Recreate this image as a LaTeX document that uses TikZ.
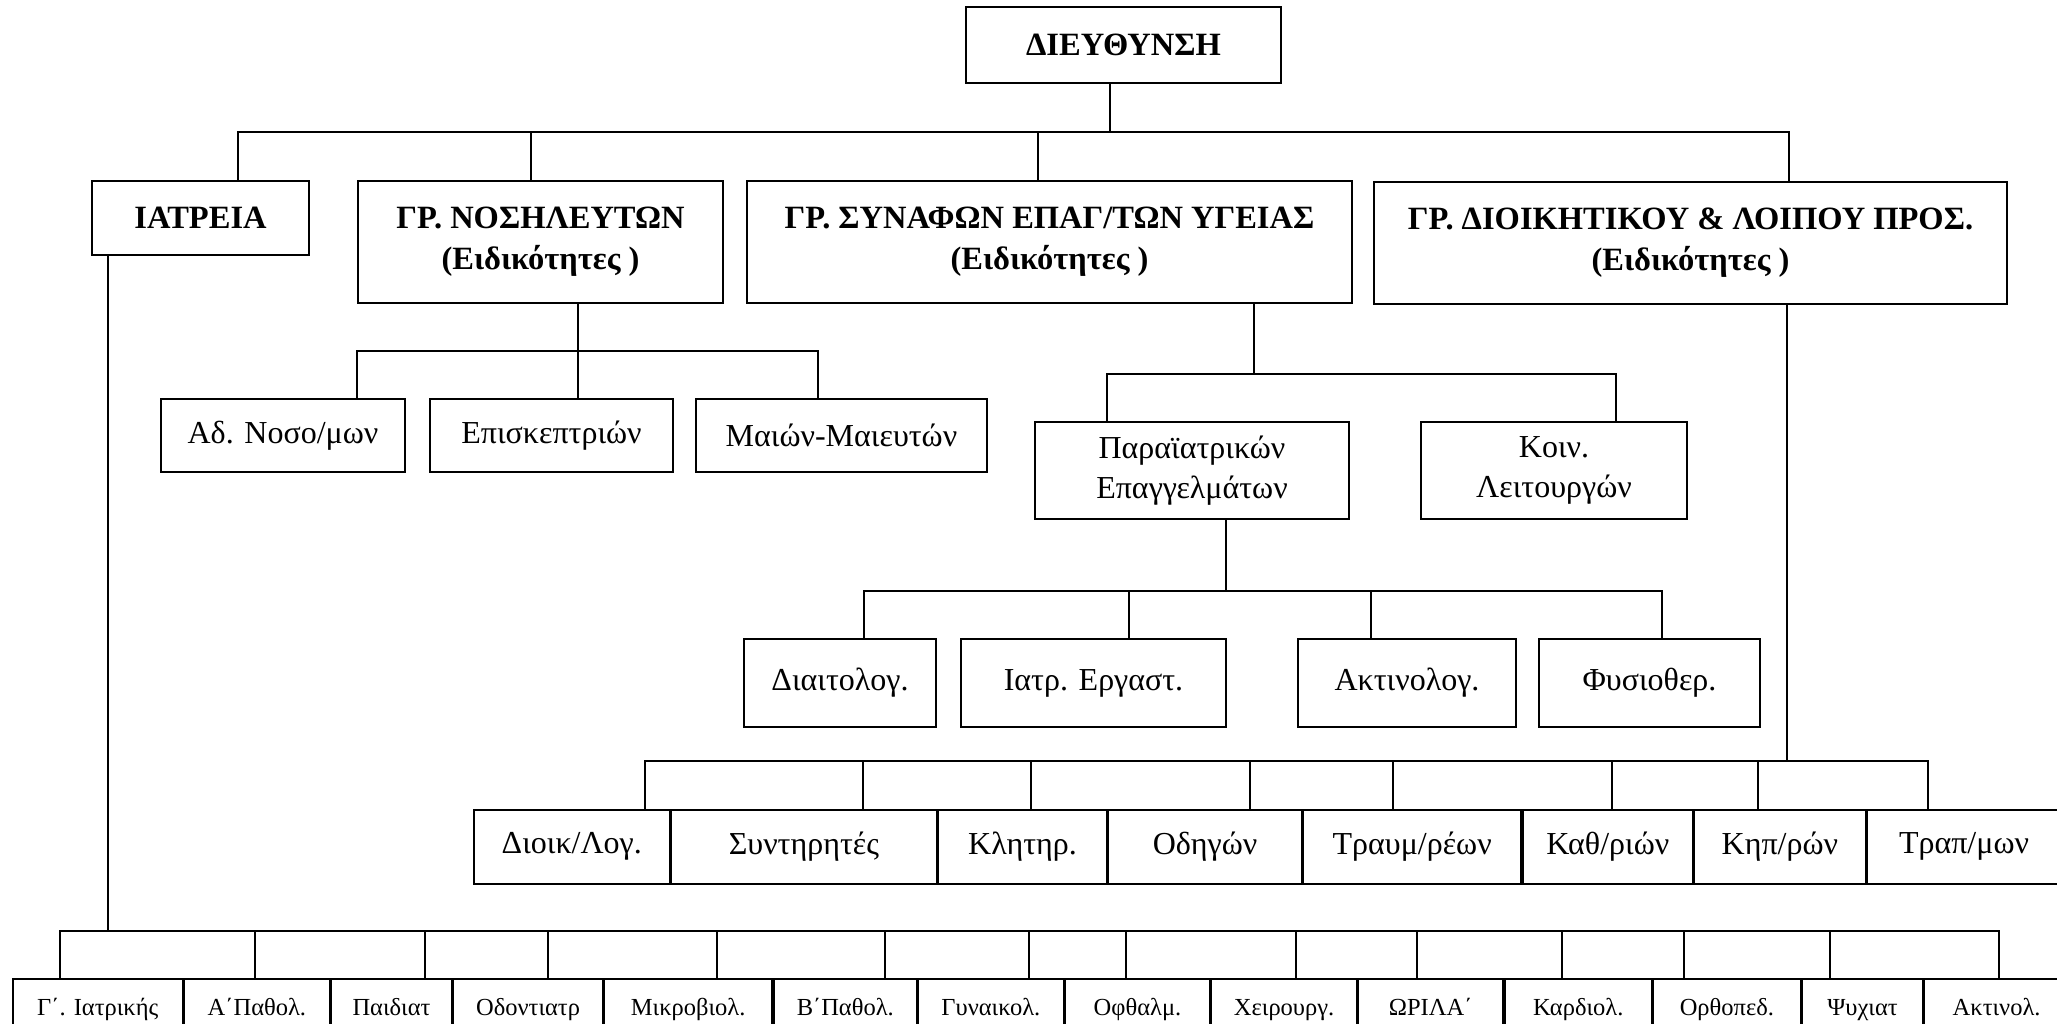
\documentclass[tikz,border=0pt]{standalone}
\usepackage{fontspec}
\setmainfont{Liberation Serif}
\usepackage{tikz}
\usetikzlibrary{positioning}

\begin{document}
\begin{tikzpicture}[x=1pt,y=-1pt]
        \tikzstyle{box}=[draw,rectangle,line width=1.6pt,inner sep=0pt,align=center,font=\fontsize{32}{40}\selectfont]
        \tikzstyle{head}=[box,font=\fontsize{32.5}{41}\selectfont\bfseries]
        \tikzstyle{cell}=[box,minimum height=62pt,text height=17pt,text depth=6pt,font=\fontsize{24.5}{28}\selectfont]
        \tikzstyle{link}=[line width=1.6pt,line cap=rect]
        \useasboundingbox (0,0) rectangle (2057,1024);
        \clip (0,0) rectangle (2057,1024);

        % management and the four groups
        \node[head,minimum width=315pt,minimum height=76pt] (dir) at (1123.5,45) {ΔΙΕΥΘΥΝΣΗ};
        \node[head,minimum width=217pt,minimum height=74pt] (iatreia) at (200.5,218) {ΙΑΤΡΕΙΑ};
        \node[head,minimum width=365pt,minimum height=122pt] (nosil) at (540.5,242) {ΓΡ. ΝΟΣΗΛΕΥΤΩΝ\\(Ειδικότητες )};
        \node[head,minimum width=605pt,minimum height=122pt] (synaf) at (1049.5,242) {ΓΡ. ΣΥΝΑΦΩΝ ΕΠΑΓ/ΤΩΝ ΥΓΕΙΑΣ\\(Ειδικότητες )};
        \node[head,minimum width=633pt,minimum height=122pt] (dioik) at (1690.5,243) {ΓΡ. ΔΙΟΙΚΗΤΙΚΟΥ \& ΛΟΙΠΟΥ ΠΡΟΣ.\\(Ειδικότητες )};

        \draw[link] (1110,0 |- dir.south) -- (1110,132);
        \draw[link] (238,132) -- (1789,132);
        \foreach \x/\n in {238/iatreia,531/nosil,1038/synaf,1789/dioik}
            \draw[link] (\x,132) -- (\x,0 |- \n.north);

        % nurses
        \node[box,minimum width=244pt,minimum height=73pt] (adnos) at (283,435.5) {Αδ. Νοσο/μων};
        \node[box,minimum width=243pt,minimum height=73pt] (episk) at (551.5,435.5) {Επισκεπτριών};
        \node[box,minimum width=291pt,minimum height=73pt] (maion) at (841.5,435.5) {Μαιών-Μαιευτών};

        \draw[link] (578,0 |- nosil.south) -- (578,351);
        \draw[link] (357,351) -- (818,351);
        \foreach \x/\n in {357/adnos,578/episk,818/maion}
            \draw[link] (\x,351) -- (\x,0 |- \n.north);

        % health professions
        \node[box,minimum width=314pt,minimum height=97pt] (parai) at (1192,470.5) {Παραϊατρικών\\Επαγγελμάτων};
        \node[box,minimum width=266pt,minimum height=97pt] (koin) at (1554,470.5) {Κοιν.\\Λειτουργών};

        \draw[link] (1254,0 |- synaf.south) -- (1254,374);
        \draw[link] (1107,374) -- (1616,374);
        \foreach \x/\n in {1107/parai,1616/koin}
            \draw[link] (\x,374) -- (\x,0 |- \n.north);

        \node[box,minimum width=192pt,minimum height=88pt] (diait) at (840,683) {Διαιτολογ.};
        \node[box,minimum width=265pt,minimum height=88pt] (iatrerg) at (1093.5,683) {Ιατρ. Εργαστ.};
        \node[box,minimum width=218pt,minimum height=88pt] (aktin) at (1407,683) {Ακτινολογ.};
        \node[box,minimum width=221pt,minimum height=88pt] (fysio) at (1649.5,683) {Φυσιοθερ.};

        \draw[link] (1226,0 |- parai.south) -- (1226,591);
        \draw[link] (864,591) -- (1662,591);
        \foreach \x/\n in {864/diait,1129/iatrerg,1371/aktin,1662/fysio}
            \draw[link] (\x,591) -- (\x,0 |- \n.north);

        % administrative staff
        \node[box,minimum width=196pt,minimum height=74pt,anchor=north west] (dlog) at (473,809) {Διοικ/Λογ.};
        \node[box,minimum width=265pt,minimum height=74pt] (synt) [right=0pt of dlog] {Συντηρητές};
        \node[box,minimum width=169pt,minimum height=74pt] (klit) [right=0pt of synt] {Κλητηρ.};
        \node[box,minimum width=193pt,minimum height=74pt] (odig) [right=0pt of klit] {Οδηγών};
        \node[box,minimum width=218pt,minimum height=74pt] (trav) [right=0pt of odig] {Τραυμ/ρέων};
        \node[box,minimum width=170pt,minimum height=74pt] (kath) [right=0pt of trav] {Καθ/ριών};
        \node[box,minimum width=171pt,minimum height=74pt] (kip) [right=0pt of kath] {Κηπ/ρών};
        \node[box,minimum width=194pt,minimum height=74pt] (trap) [right=0pt of kip] {Τραπ/μων};

        \draw[link] (1787,0 |- dioik.south) -- (1787,761);
        \draw[link] (645,761) -- (1928,761);
        \foreach \x/\n in {645/dlog,863/synt,1031/klit,1250/odig,1393/trav,1612/kath,1758/kip,1928/trap}
            \draw[link] (\x,761) -- (\x,0 |- \n.north);

        % clinics
        \node[cell,minimum width=170pt,anchor=north west] (giat) at (12,978) {Γ΄. Ιατρικής};
        \node[cell,minimum width=145pt] (apath) [right=0pt of giat] {Α΄Παθολ.};
        \node[cell,minimum width=121pt] (paid) [right=0pt of apath] {Παιδιατ};
        \node[cell,minimum width=149pt] (odon) [right=0pt of paid] {Οδοντιατρ};
        \node[cell,minimum width=168pt] (mikr) [right=0pt of odon] {Μικροβιολ.};
        \node[cell,minimum width=143pt] (bpath) [right=0pt of mikr] {Β΄Παθολ.};
        \node[cell,minimum width=145pt] (gyn) [right=0pt of bpath] {Γυναικολ.};
        \node[cell,minimum width=145pt] (ofth) [right=0pt of gyn] {Οφθαλμ.};
        \node[cell,minimum width=145pt] (xeir) [right=0pt of ofth] {Χειρουργ.};
        \node[cell,minimum width=145pt] (oril) [right=0pt of xeir] {ΩΡΙΛΑ΄};
        \node[cell,minimum width=147pt] (kard) [right=0pt of oril] {Καρδιολ.};
        \node[cell,minimum width=147pt] (orth) [right=0pt of kard] {Ορθοπεδ.};
        \node[cell,minimum width=121pt] (psyx) [right=0pt of orth] {Ψυχιατ};
        \node[cell,minimum width=144pt] (akt) [right=0pt of psyx] {Ακτινολ.};

        \draw[link] (108,0 |- iatreia.south) -- (108,931);
        \draw[link] (60,931) -- (1999,931);
        \foreach \x/\n in {60/giat,255/apath,425/paid,548/odon,717/mikr,885/bpath,1029/gyn,1126/ofth,1296/xeir,1417/oril,1562/kard,1684/orth,1830/psyx,1999/akt}
            \draw[link] (\x,931) -- (\x,0 |- \n.north);
    \end{tikzpicture}
\end{document}
